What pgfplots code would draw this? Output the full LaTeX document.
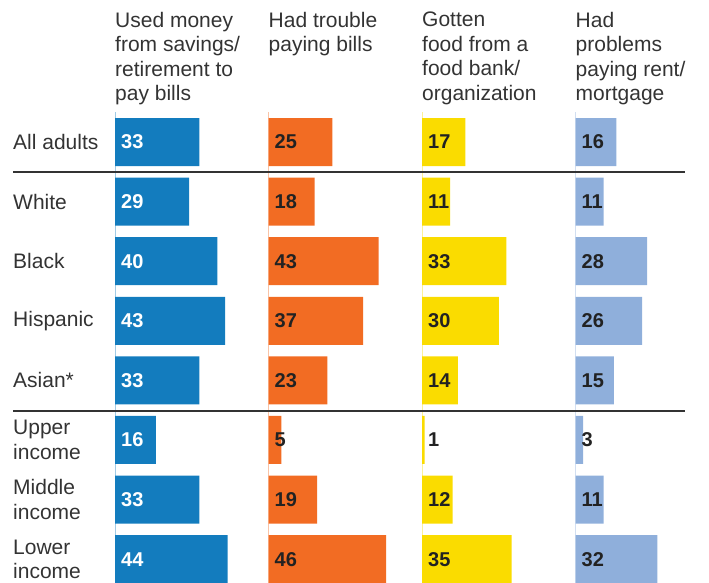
\documentclass[border=0pt]{standalone}
\usepackage{pgfplots}
\usepackage{pgfplotstable}
\pgfplotsset{compat=1.18}
\usepackage{fontspec}
\setmainfont{Liberation Sans}
\definecolor{cblue}{HTML}{137CBE}
\definecolor{corange}{HTML}{F26C23}
\definecolor{cyellow}{HTML}{FADC00}
\definecolor{clight}{HTML}{8FAFDB}
\definecolor{ctext}{HTML}{333333}
\definecolor{cdark}{HTML}{222222}
\pgfplotstableread{
row b o y l
0 33 25 17 16
1 29 18 11 11
2 40 43 33 28
3 43 37 30 26
4 33 23 14 15
5 16 5 1 3
6 33 19 12 11
7 44 46 35 32
}\data
\newcommand{\lblfont}{\fontsize{21bp}{24.5bp}\selectfont}
\newcommand{\col}[4]{%
\begin{axis}[at={(#1bp,0bp)}, anchor=north west, scale only axis,
  width=153.5bp, height=583bp, xmin=0, xmax=60, ymin=-2.383, ymax=7.4,
  y dir=reverse, axis lines=none, clip=false]
\draw[#3!40, line width=0.6bp] (axis cs:0,-0.5) -- (axis cs:0,7.6);
\addplot[xbar, bar width=48bp, bar shift=0pt, fill=#3, draw=none] table[x=#2, y=row] {\data};
\addplot[draw=none, mark=none, nodes near coords, nodes near coords align={horizontal},
  point meta=explicit symbolic,
  every node near coord/.append style={anchor=west, inner sep=0pt, xshift=6bp,
    font=\fontsize{20bp}{24bp}\selectfont\bfseries, text=#4}]
  table[x expr=0, y=row, meta=#2] {\data};
\end{axis}}
\begin{document}
\begin{tikzpicture}
\useasboundingbox (0,0) rectangle (709bp,-583bp);
\col{115}{b}{cblue}{white}
\col{268.5}{o}{corange}{cdark}
\col{422}{y}{cyellow}{cdark}
\col{575.5}{l}{clight}{cdark}
\begin{scope}[every node/.style={inner sep=0pt, align=left, text=ctext, font=\lblfont}]
\node[anchor=north west] at (115bp,-12bp) {Used money\\from savings/\\retirement to\\pay bills};
\node[anchor=north west] at (268.5bp,-12bp) {Had trouble\\paying bills};
\node[anchor=north west] at (422bp,-12bp) {Gotten\\food from a\\food bank/\\organization};
\node[anchor=north west] at (575.5bp,-12bp) {Had\\problems\\paying rent/\\mortgage};
\node[anchor=west] at (13bp,-142bp) {All adults};
\node[anchor=west] at (13bp,-201.6bp) {White};
\node[anchor=west] at (13bp,-261.2bp) {Black};
\node[anchor=west] at (13bp,-320.8bp) {Hispanic};
\node[anchor=west] at (13bp,-380.4bp) {Asian*};
\node[anchor=west] at (13bp,-440bp) {Upper\\income};
\node[anchor=west] at (13bp,-499.6bp) {Middle\\income};
\node[anchor=west] at (13bp,-559.2bp) {Lower\\income};
\end{scope}
\draw[ctext, line width=1.5bp] (13bp,-172bp) -- (685bp,-172bp);
\draw[ctext, line width=1.5bp] (13bp,-411bp) -- (685bp,-411bp);
\end{tikzpicture}
\end{document}
